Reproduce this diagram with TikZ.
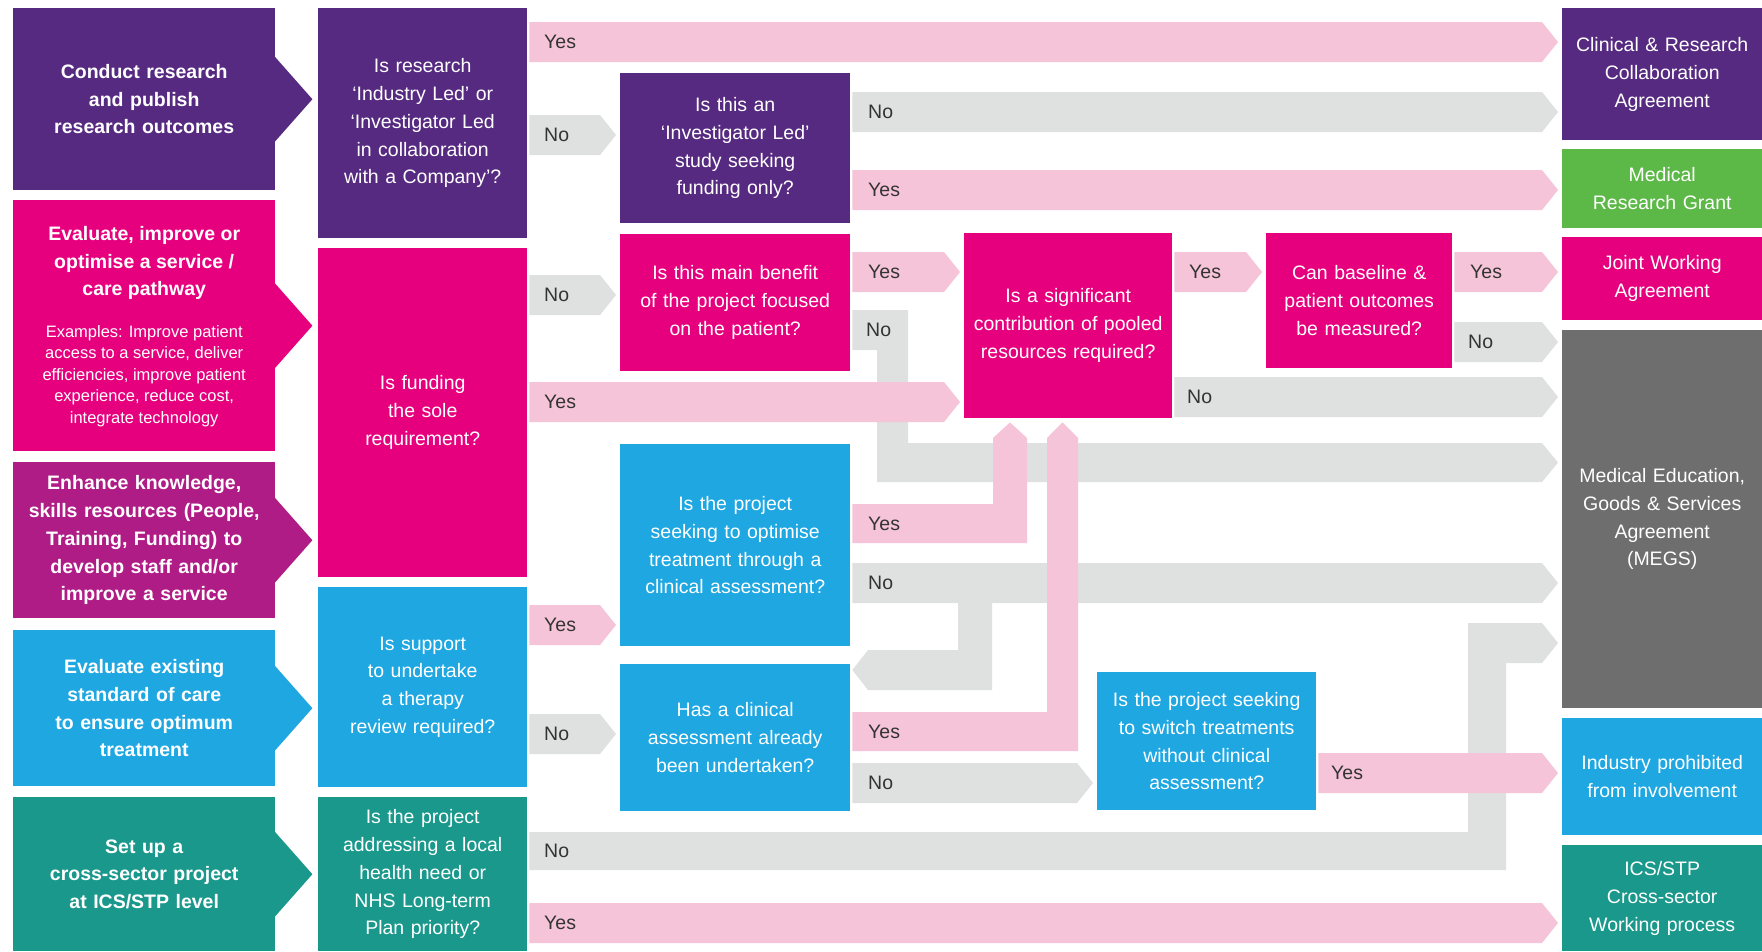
\documentclass[tikz,border=0pt]{standalone}
\usepackage{fontspec}
\setmainfont{Liberation Sans}
\usetikzlibrary{calc}
\definecolor{cpurple}{HTML}{562A80}
\definecolor{cpink}{HTML}{E6007E}
\definecolor{cmag}{HTML}{B01C86}
\definecolor{cblue}{HTML}{1EA7E1}
\definecolor{cteal}{HTML}{1A988C}
\definecolor{cgreen}{HTML}{5CB947}
\definecolor{cgrey}{HTML}{6E6E6E}
\definecolor{pband}{HTML}{F6C4D8}
\definecolor{gband}{HTML}{DFE0E0}
\definecolor{labc}{HTML}{333333}
\newcommand\fsz{\fontsize{19.5}{27.8}\selectfont}
\newcommand\fsm{\fontsize{16.5}{21.5}\selectfont}
% straight band with chevron tip: colour, from node, to node, top y
\newcommand\rband[4]{%
  \fill[#1] ([xshift=2pt]#2.east |- 0,#4) -- ([xshift=-20pt]#3.west |- 0,#4)
    -- ([xshift=-4pt]#3.west |- 0,{#4+20}) -- ([xshift=-20pt]#3.west |- 0,{#4+40})
    -- ([xshift=2pt]#2.east |- 0,{#4+40}) -- cycle;}
\begin{document}
\begin{tikzpicture}[x=1pt,y=-1pt,
  box/.style={draw=none, inner sep=0pt, anchor=north west, align=center, text=white, font=\fsz},
  lbox/.style={box, minimum width=262pt, text width=254pt, font=\fsz\bfseries},
  qbox/.style={box, minimum width=209pt, text width=200pt},
  mbox/.style={box, minimum width=230pt, text width=222pt},
  rbox/.style={box, minimum width=200pt, text width=192pt},
  txt/.style={inner sep=0pt, align=center, text=white},
  lbl/.style={anchor=west, inner sep=0pt, text=labc, font=\fsz}]
\useasboundingbox (0,0) rectangle (1762,951);
\fill[white] (0,0) rectangle (1762,951);

% ---------- left column ----------
\node[lbox, fill=cpurple, minimum height=182pt] (l1) at (13,8) {Conduct research\\and publish\\research outcomes};
\node[lbox, fill=cpink, minimum height=251pt] (l2) at (13,200) {};
\node[txt, font=\fsz\bfseries] (l2t) at ($(l2.north)+(0,63)$) {Evaluate, improve or\\optimise a service /\\care pathway};
\node[txt, font=\fsm] (l2x) at ($(l2.north)+(0,176)$) {Examples: Improve patient\\access to a service, deliver\\efficiencies, improve patient\\experience, reduce cost,\\integrate technology};
\node[lbox, fill=cmag, minimum height=156pt] (l3) at (13,462) {Enhance knowledge,\\skills resources (People,\\Training, Funding) to\\develop staff and/or\\improve a service};
\node[lbox, fill=cblue, minimum height=156pt] (l4) at (13,630) {Evaluate existing\\standard of care\\to ensure optimum\\treatment};
\node[lbox, fill=cteal, minimum height=154pt] (l5) at (13,797) {Set up a\\cross-sector project\\at ICS/STP level};
\foreach \n/\c in {l1/cpurple,l2/cpink,l3/cmag,l4/cblue,l5/cteal}
  \fill[\c] ($(\n.east)+(-1,-43)$) -- ($(\n.east)+(37,0)$) -- ($(\n.east)+(-1,43)$) -- cycle;

% ---------- first question column ----------
\node[qbox, fill=cpurple, minimum height=230pt] (q1) at (318,8) {Is research\\‘Industry Led’ or\\‘Investigator Led\\in collaboration\\with a Company’?};
\node[qbox, fill=cpink, minimum height=329pt] (q2) at (318,248) {Is funding\\the sole\\requirement?};
\node[qbox, fill=cblue, minimum height=200pt] (q3) at (318,587) {Is support\\to undertake\\a therapy\\review required?};
\node[qbox, fill=cteal, minimum height=154pt] (q4) at (318,797) {Is the project\\addressing a local\\health need or\\NHS Long-term\\Plan priority?};

% ---------- second question column ----------
\node[mbox, fill=cpurple, minimum height=150pt] (q5) at (620,73) {Is this an\\‘Investigator Led’\\study seeking\\funding only?};
\node[mbox, fill=cpink, minimum height=137pt] (q6) at (620,234) {Is this main benefit\\of the project focused\\on the patient?};
\node[mbox, fill=cblue, minimum height=202pt] (q7) at (620,444) {Is the project\\seeking to optimise\\treatment through a\\clinical assessment?};
\node[mbox, fill=cblue, minimum height=147pt] (q8) at (620,664) {Has a clinical\\assessment already\\been undertaken?};

% ---------- further questions ----------
\node[box, fill=cpink, minimum width=208pt, text width=200pt, minimum height=185pt] (q9) at (964,233) {Is a significant\\contribution of pooled\\resources required?};
\node[box, fill=cpink, minimum width=186pt, text width=180pt, minimum height=135pt] (q10) at (1266,233) {Can baseline \&\\patient outcomes\\be measured?};
\node[box, fill=cblue, minimum width=219pt, text width=212pt, minimum height=138pt] (q11) at (1097,672) {Is the project seeking\\to switch treatments\\without clinical\\assessment?};

% ---------- outcomes ----------
\node[rbox, fill=cpurple, minimum height=132pt] (r1) at (1562,8) {Clinical \& Research\\Collaboration\\Agreement};
\node[rbox, fill=cgreen, minimum height=79pt] (r2) at (1562,149) {Medical\\Research Grant};
\node[rbox, fill=cpink, minimum height=83pt] (r3) at (1562,237) {Joint Working\\Agreement};
\node[rbox, fill=cgrey, minimum height=378pt] (r4) at (1562,330) {Medical Education,\\Goods \& Services\\Agreement\\(MEGS)};
\node[rbox, fill=cblue, minimum height=117pt] (r5) at (1562,718) {Industry prohibited\\from involvement};
\node[rbox, fill=cteal, minimum height=106pt] (r6) at (1562,845) {ICS/STP\\Cross-sector\\Working process};

% ---------- grey (No) connectors ----------
\rband{gband}{q1}{q5}{115}
\rband{gband}{q5}{r1}{92}
\rband{gband}{q2}{q6}{275}
\rband{gband}{q10}{r4}{322}
\rband{gband}{q9}{r4}{377}
\fill[gband] ([xshift=2pt]q6.east |- 0,310) -- (908,310) -- (908,443)
  -- ([xshift=-20pt]r4.west |- 0,443) -- ([xshift=-4pt]r4.west |- 0,462.5)
  -- ([xshift=-20pt]r4.west |- 0,482) -- (877,482) -- (877,350)
  -- ([xshift=2pt]q6.east |- 0,350) -- cycle;
\rband{gband}{q7}{r4}{563}
\fill[gband] (958,600) -- (992,600) -- (992,690) -- (868,690)
  -- ([xshift=2pt]q8.east |- 0,670) -- (868,650) -- (958,650) -- cycle;
\rband{gband}{q3}{q8}{714}
\rband{gband}{q8}{q11}{763}
\fill[gband] ([xshift=2pt]q4.east |- 0,832) -- (1468,832) -- (1468,623)
  -- ([xshift=-20pt]r4.west |- 0,623) -- ([xshift=-4pt]r4.west |- 0,643)
  -- ([xshift=-20pt]r4.west |- 0,663) -- (1506,663) -- (1506,870)
  -- ([xshift=2pt]q4.east |- 0,870) -- cycle;

% ---------- pink (Yes) connectors ----------
\rband{pband}{q1}{r1}{22}
\rband{pband}{q5}{r2}{170}
\rband{pband}{q6}{q9}{252}
\rband{pband}{q9}{q10}{252}
\rband{pband}{q10}{r3}{252}
\rband{pband}{q2}{q9}{382}
\rband{pband}{q3}{q7}{605}
\fill[pband] ([xshift=2pt]q7.east |- 0,504) -- (993,504) -- (993,438)
  -- ([yshift=-4pt]1010,0 |- q9.south) -- (1027,438) -- (1027,543)
  -- ([xshift=2pt]q7.east |- 0,543) -- cycle;
\fill[pband] ([xshift=2pt]q8.east |- 0,712) -- (1047,712) -- (1047,438)
  -- ([yshift=-4pt]1062.5,0 |- q9.south) -- (1078,438) -- (1078,751)
  -- ([xshift=2pt]q8.east |- 0,751) -- cycle;
\rband{pband}{q11}{r5}{753}
\rband{pband}{q4}{r6}{903}

% ---------- labels ----------
\node[lbl] (a1) at (544,42) {Yes};
\node[lbl] (a2) at (544,135) {No};
\node[lbl] (a3) at (544,295) {No};
\node[lbl] (a4) at (544,402) {Yes};
\node[lbl] (a5) at (544,625) {Yes};
\node[lbl] (a6) at (544,734) {No};
\node[lbl] (a7) at (544,851) {No};
\node[lbl] (a8) at (544,923) {Yes};
\node[lbl] (b1) at (868,112) {No};
\node[lbl] (b2) at (868,190) {Yes};
\node[lbl] (b3) at (868,272) {Yes};
\node[lbl] (b4) at (866,330) {No};
\node[lbl] (b5) at (868,524) {Yes};
\node[lbl] (b6) at (868,583) {No};
\node[lbl] (b7) at (868,732) {Yes};
\node[lbl] (b8) at (868,783) {No};
\node[lbl] (c1) at (1189,272) {Yes};
\node[lbl] (c2) at (1187,397) {No};
\node[lbl] (c3) at (1470,272) {Yes};
\node[lbl] (c4) at (1468,342) {No};
\node[lbl] (c5) at (1331,773) {Yes};
\end{tikzpicture}
\end{document}
